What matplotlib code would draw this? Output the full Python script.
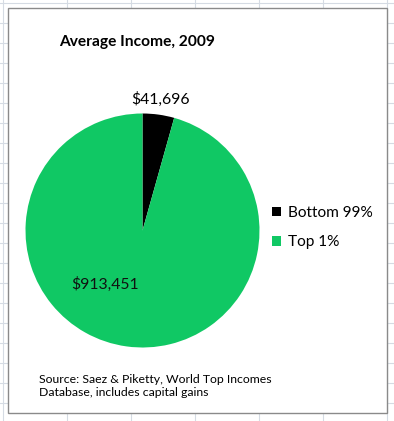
import matplotlib
matplotlib.use("Agg")
import matplotlib.pyplot as plt
from matplotlib.patches import Rectangle
from matplotlib.lines import Line2D
import numpy as np

# ---- data ----
categories = ["Bottom 99%", "Top 1%"]
values = [41696, 913451]
colors = ["#000000", "#10C864"]
title = "Average Income, 2009"
source = "Source: Saez & Piketty, World Top Incomes\nDatabase, includes capital gains"

W, H = 394, 421
DPI = 100
fig = plt.figure(figsize=(W / DPI, H / DPI), dpi=DPI)
fig.patch.set_facecolor("white")
plt.rcParams["font.family"] = ["Lato", "DejaVu Sans"]


def fx(x):
    return x / W


def fy(y):
    return 1 - y / H


# spreadsheet gridlines behind the chart
grid_c = "#d5dbe3"
for gx in np.arange(3, W, 64):
    fig.add_artist(Line2D([fx(gx), fx(gx)], [0, 1], color=grid_c, lw=0.8, zorder=0))
for gy in np.arange(3, H, 20):
    fig.add_artist(Line2D([0, 1], [fy(gy), fy(gy)], color=grid_c, lw=0.8, zorder=0))

# chart frame
fig.add_artist(Rectangle((fx(8), fy(413)), fx(387) - fx(8), fy(8) - fy(413),
                         facecolor="white", edgecolor="#8a8a8a", lw=1.0, zorder=1,
                         transform=fig.transFigure))

# pie axes
cx, cy, r = 142.5, 230.5, 117
ax = fig.add_axes([fx(cx - r), fy(cy + r), 2 * r / W, 2 * r / H], zorder=2)
ax.set_facecolor("none")
wedges, _ = ax.pie(values, colors=colors, startangle=90, counterclock=False,
                   radius=1.0, wedgeprops=dict(linewidth=0))
ax.set_xlim(-1, 1)
ax.set_ylim(-1, 1)
ax.set_aspect("equal")
ax.axis("off")

# data labels
w0 = wedges[0]
mid = np.deg2rad((w0.theta1 + w0.theta2) / 2)
ax.text(1.13 * np.cos(mid), 1.13 * np.sin(mid), f"${values[0]:,}", ha="center", va="center",
        fontsize=11.3, color="black")
ax.text(-0.32, -0.46, f"${values[1]:,}", ha="center", va="center",
        fontsize=11.3, color="#111111")

# title
fig.text(fx(59), fy(42), title, ha="left", va="center", fontsize=11.2, fontweight="bold",
         color="black", zorder=3)

# legend
leg = fig.legend(wedges, categories, loc="upper left", bbox_to_anchor=(fx(272), fy(206)),
                 frameon=False, fontsize=11.1, handlelength=0.6, handleheight=0.6,
                 handletextpad=0.45, labelspacing=1.0, borderpad=0, borderaxespad=0)
leg.set_zorder(3)

# source note
fig.text(fx(39), fy(386), source, ha="left", va="center", fontsize=8.8, color="black",
         linespacing=1.3, zorder=3)

fig.savefig("out.png", dpi=DPI, facecolor="white")
